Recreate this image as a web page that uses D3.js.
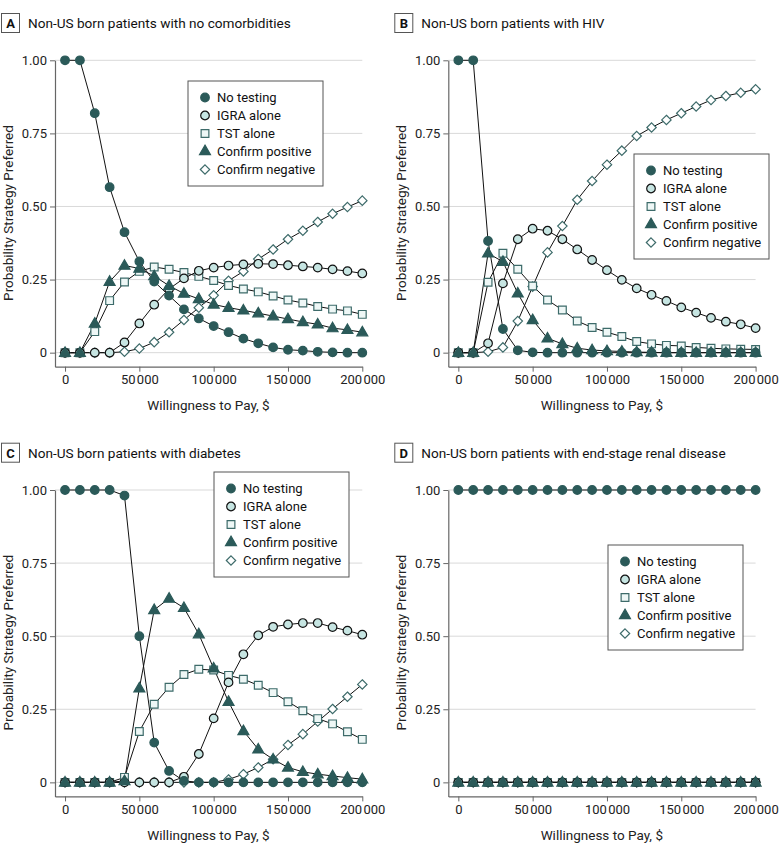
<!DOCTYPE html>
<html><head><meta charset="utf-8">
<script src="https://cdn.jsdelivr.net/npm/d3@7/dist/d3.min.js"></script>
<style>body{margin:0;background:#fff}svg{display:block}</style>
</head><body>
<svg id="chart" width="783" height="851"></svg>
<script>
const wtp = [0,10000,20000,30000,40000,50000,60000,70000,80000,90000,100000,110000,120000,130000,140000,150000,160000,170000,180000,190000,200000];
const strategies = ["No testing","IGRA alone","TST alone","Confirm positive","Confirm negative"];
const panelLetters = ["A","B","C","D"];
const panelTitles = ["Non-US born patients with no comorbidities","Non-US born patients with HIV","Non-US born patients with diabetes","Non-US born patients with end-stage renal disease"];
const yTicks = [0,0.25,0.5,0.75,1];
const yTickLabels = ["0","0.25","0.50","0.75","1.00"];
const xTicks = [0,50000,100000,150000,200000];
const xTickLabels = ["0","50\u200A000","100\u200A000","150\u200A000","200\u200A000"];

// Panel A: no comorbidities
const aNoTesting = [1,1,0.819,0.566,0.412,0.312,0.243,0.195,0.148,0.117,0.091,0.070,0.048,0.032,0.018,0.010,0.007,0.003,0.001,0,0];
const aIGRA = [0,0,0,0,0.035,0.100,0.164,0.218,0.254,0.280,0.291,0.298,0.302,0.304,0.303,0.299,0.295,0.291,0.285,0.279,0.271];
const aTST = [0,0,0.072,0.178,0.242,0.278,0.293,0.285,0.274,0.261,0.247,0.230,0.218,0.208,0.194,0.180,0.170,0.158,0.149,0.143,0.131];
const aConfPos = [0,0,0.100,0.243,0.298,0.288,0.262,0.229,0.202,0.184,0.165,0.154,0.145,0.135,0.125,0.115,0.105,0.097,0.084,0.078,0.070];
const aConfNeg = [0,0,0,0,0.003,0.014,0.036,0.070,0.112,0.154,0.196,0.246,0.278,0.320,0.353,0.388,0.417,0.447,0.475,0.498,0.520];

// Panel B: HIV
const bNoTesting = [1,1,0.382,0.081,0.008,0.001,0,0,0,0,0,0,0,0,0,0,0,0,0,0,0];
const bIGRA = [0,0,0.032,0.237,0.388,0.424,0.417,0.388,0.353,0.317,0.282,0.249,0.220,0.198,0.177,0.155,0.137,0.119,0.106,0.097,0.084];
const bTST = [0,0,0.241,0.340,0.285,0.228,0.180,0.146,0.108,0.086,0.070,0.055,0.038,0.030,0.025,0.023,0.018,0.015,0.013,0.012,0.011];
const bConfPos = [0,0,0.340,0.311,0.203,0.112,0.049,0.030,0.015,0.009,0.006,0.004,0.002,0.001,0,0,0,0,0,0,0];
const bConfNeg = [0,0,0.003,0.018,0.108,0.226,0.343,0.433,0.523,0.587,0.643,0.691,0.741,0.770,0.796,0.819,0.842,0.864,0.878,0.889,0.901];

// Panel C: diabetes
const cNoTesting = [1,1,1,1,0.981,0.500,0.136,0.039,0.005,0,0,0,0,0,0,0,0,0,0,0,0];
const cIGRA = [0,0,0,0,0,0,0,0,0.019,0.097,0.219,0.342,0.438,0.503,0.532,0.540,0.545,0.545,0.531,0.519,0.505];
const cTST = [0,0,0,0,0.017,0.174,0.267,0.325,0.369,0.387,0.384,0.366,0.353,0.332,0.307,0.276,0.245,0.218,0.200,0.173,0.147];
const cConfPos = [0,0,0,0,0.005,0.322,0.590,0.629,0.597,0.507,0.390,0.276,0.176,0.113,0.079,0.051,0.036,0.028,0.022,0.016,0.011];
const cConfNeg = [0,0,0,0,0,0,0,0,0,0,0,0.010,0.028,0.051,0.079,0.128,0.165,0.208,0.251,0.293,0.335];

// Panel D: end-stage renal disease
const dNoTesting = [1,1,1,1,1,1,1,1,1,1,1,1,1,1,1,1,1,1,1,1,1];
const dIGRA = [0,0,0,0,0,0,0,0,0,0,0,0,0,0,0,0,0,0,0,0,0];
const dTST = [0,0,0,0,0,0,0,0,0,0,0,0,0,0,0,0,0,0,0,0,0];
const dConfPos = [0,0,0,0,0,0,0,0,0,0,0,0,0,0,0,0,0,0,0,0,0];
const dConfNeg = [0,0,0,0,0,0,0,0,0,0,0,0,0,0,0,0,0,0,0,0,0];

const panelData = [
  [aNoTesting,aIGRA,aTST,aConfPos,aConfNeg],
  [bNoTesting,bIGRA,bTST,bConfPos,bConfNeg],
  [cNoTesting,cIGRA,cTST,cConfPos,cConfNeg],
  [dNoTesting,dIGRA,dTST,dConfPos,dConfNeg]
];

const DARK = "#2b5a59", LIGHT = "#c6e5e2", SQSTROKE = "#3d6b6a";
const FONT = "Roboto, Lato, sans-serif";
const diamond = {draw(ctx, size){ const r = Math.sqrt(size/2); ctx.moveTo(0,-r); ctx.lineTo(r,0); ctx.lineTo(0,r); ctx.lineTo(-r,0); ctx.closePath(); }};
const styles = [
  {shape:d3.symbolCircle, size:58, fill:DARK, stroke:DARK},
  {shape:d3.symbolCircle, size:58, fill:LIGHT, stroke:"#111"},
  {shape:d3.symbolSquare, size:60, fill:"#eef7f6", stroke:SQSTROKE},
  {shape:d3.symbolTriangle, size:52, fill:DARK, stroke:DARK},
  {shape:diamond, size:44, fill:"#fff", stroke:SQSTROKE}
];
const drawOrder = [4,2,1,0,3];

const offsets = [[0,0],[393.3,0],[0,429.7],[393.3,429.7]];
const legendPos = [[188,81],[240.7,154],[214,42.3],[214.7,115.3]];

const svg = d3.select("#chart");

panelData.forEach((series, p) => {
  const [ox, oy] = offsets[p];
  const g = svg.append("g");
  const x = d3.scaleLinear().domain([-6750,200000]).range([ox+55, ox+362.3]);
  const y = d3.scaleLinear().domain([-0.048,1]).range([oy+366.7, oy+60.3]);

  // panel label
  g.append("rect").attr("x",ox+1.5).attr("y",oy+13.5).attr("width",18).attr("height",19)
    .attr("fill","#fff").attr("stroke","#555").attr("stroke-width",1);
  g.append("text").attr("x",ox+10.5).attr("y",oy+28).attr("text-anchor","middle")
    .attr("font-family",FONT).attr("font-weight","bold").attr("font-size",13).attr("fill","#111").text(panelLetters[p]);
  g.append("text").attr("x",ox+28).attr("y",oy+28).attr("font-family",FONT).attr("font-size",13.6)
    .attr("fill","#111").text(panelTitles[p]);

  // gridlines
  g.selectAll(".grid").data(yTicks).enter().append("line")
    .attr("x1",x(-6750)).attr("x2",x(200000)).attr("y1",d=>y(d)).attr("y2",d=>y(d))
    .attr("stroke","#d9d9d9").attr("stroke-width",1);

  // axes
  const yAxis = d3.axisLeft(y).tickValues(yTicks).tickFormat((d,i)=>yTickLabels[i]).tickSize(5).tickPadding(3).tickSizeOuter(0);
  const ya = g.append("g").attr("transform",`translate(${x(-6750)},0)`).call(yAxis);
  const xAxis = d3.axisBottom(x).tickValues(xTicks).tickFormat((d,i)=>xTickLabels[i]).tickSize(5).tickPadding(3).tickSizeOuter(0);
  const xa = g.append("g").attr("transform",`translate(0,${y(-0.048)})`).call(xAxis);
  [ya,xa].forEach(a=>{
    a.select(".domain").attr("stroke","#666").attr("stroke-width",1.2);
    a.selectAll(".tick line").attr("stroke","#666");
    a.selectAll(".tick text").attr("font-family",FONT).attr("font-size",13).attr("fill","#222");
  });

  g.append("text").attr("x",ox+208.5).attr("y",oy+410).attr("text-anchor","middle")
    .attr("font-family",FONT).attr("font-size",13.5).attr("fill","#222").text("Willingness to Pay, $");
  g.append("text").attr("transform",`translate(${ox+13},${oy+213}) rotate(-90)`).attr("text-anchor","middle")
    .attr("font-family",FONT).attr("font-size",13.5).attr("fill","#222").text("Probability Strategy Preferred");

  // lines
  const line = d3.line().x((d,i)=>x(wtp[i])).y(d=>y(d));
  drawOrder.forEach(s => {
    g.append("path").datum(series[s]).attr("d",line).attr("fill","none").attr("stroke","#111").attr("stroke-width",1);
  });
  // markers
  drawOrder.forEach(s => {
    const st = styles[s];
    const sym = d3.symbol().type(st.shape).size(st.size);
    g.append("g").selectAll("path").data(series[s]).enter().append("path")
      .attr("d",sym).attr("transform",(d,i)=>`translate(${x(wtp[i])},${y(d) + (st.shape===d3.symbolTriangle?0.5:0)})`)
      .attr("fill",st.fill).attr("stroke",st.stroke).attr("stroke-width",1.2);
  });

  // legend
  const [lx, ly] = legendPos[p];
  const lg = g.append("g").attr("transform",`translate(${ox+lx},${oy+ly})`);
  lg.append("rect").attr("width",135).attr("height",105).attr("fill","#fff").attr("stroke","#555").attr("stroke-width",1);
  strategies.forEach((name,i)=>{
    const st = styles[i];
    const sym = d3.symbol().type(st.shape).size(st.size);
    lg.append("path").attr("d",sym).attr("transform",`translate(17,${16.5+i*18})`)
      .attr("fill",st.fill).attr("stroke",st.stroke).attr("stroke-width",1.2);
    lg.append("text").attr("x",29).attr("y",21+i*18).attr("font-family",FONT).attr("font-size",13)
      .attr("fill","#111").text(name);
  });
});
</script>
</body></html>
